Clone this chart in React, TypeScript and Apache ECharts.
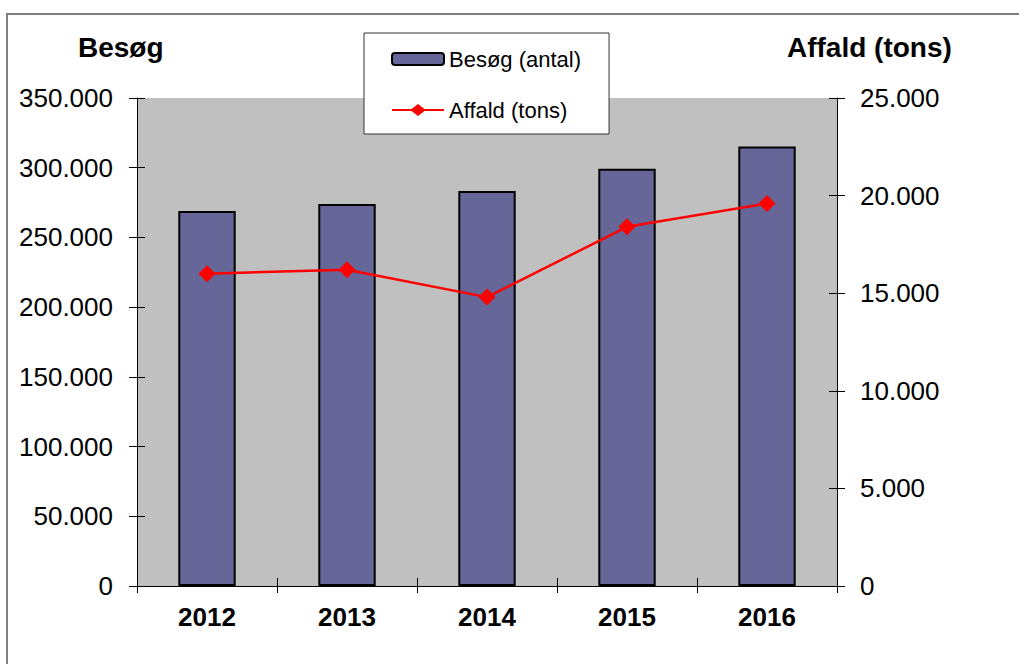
import React, { useEffect, useRef } from "react";
import * as echarts from "echarts";

const years = ["2012", "2013", "2014", "2015", "2016"];
const visits = [269000, 274000, 283300, 299300, 315300];
const waste = [16000, 16200, 14800, 18400, 19600];
const visitsName = "Besøg (antal)";
const wasteName = "Affald (tons)";
const leftTitle = "Besøg";
const rightTitle = "Affald (tons)";

const fmt = (v: number) => String(v).replace(/\B(?=(\d{3})+(?!\d))/g, ".");
const FONT = "'Liberation Sans', Arial, sans-serif";
const lineIcon =
  "path://M0,5 L19.5,5 L26,0 L32.5,5 L52,5 L52,7 L32.5,7 L26,12 L19.5,7 L0,7 Z";

export default function App() {
  const ref = useRef<HTMLDivElement>(null);
  useEffect(() => {
    if (!ref.current) return;
    const chart = echarts.init(ref.current, undefined, { renderer: "svg" });
    const tickStyle = { color: "#000", width: 1 };
    chart.setOption({
      animation: false,
      backgroundColor: "#fff",
      textStyle: { fontFamily: FONT },
      title: [
        {
          text: leftTitle,
          left: 78,
          top: 33,
          padding: 0,
          textStyle: { fontSize: 28, fontWeight: "bold", color: "#000", fontFamily: FONT },
        },
        {
          text: rightTitle,
          left: 787,
          top: 33,
          padding: 0,
          textStyle: { fontSize: 28, fontWeight: "bold", color: "#000", fontFamily: FONT },
        },
      ],
      graphic: [
        {
          type: "rect",
          shape: { x: 7, y: 14, width: 1030, height: 700 },
          style: { fill: "none", stroke: "#808080", lineWidth: 2 },
          silent: true,
          z: 0,
        },
      ],
      legend: {
        orient: "vertical",
        left: 364,
        top: 33,
        padding: [14, 28, 12, 27],
        itemWidth: 52,
        itemHeight: 12,
        itemGap: 27,
        backgroundColor: "#fff",
        borderColor: "#333",
        borderWidth: 1,
        textStyle: { fontSize: 22, lineHeight: 24, color: "#000", fontFamily: FONT },
        data: [
          { name: visitsName },
          { name: wasteName, icon: lineIcon, itemStyle: { color: "#FF0000", borderWidth: 0 } },
        ],
      },
      grid: {
        left: 137,
        right: 182,
        top: 98,
        bottom: 78,
        show: true,
        backgroundColor: "#C0C0C0",
        borderWidth: 0,
      },
      xAxis: [
        {
          type: "category",
          data: years,
          position: "bottom",
          axisLine: { lineStyle: { color: "#000", width: 1 } },
          axisTick: { show: true, length: 7, lineStyle: tickStyle },
          axisLabel: { color: "#000", fontSize: 26, fontWeight: "bold", margin: 18, fontFamily: FONT },
          splitLine: { show: false },
        },
        {
          type: "category",
          data: years,
          position: "bottom",
          offset: 0,
          axisLine: { show: false },
          axisTick: { show: true, inside: true, length: 8, lineStyle: tickStyle },
          axisLabel: { show: false },
          splitLine: { show: false },
        },
      ],
      yAxis: [
        {
          type: "value",
          position: "left",
          min: 0,
          max: 350000,
          interval: 50000,
          axisLine: { show: true, lineStyle: { color: "#000", width: 1 } },
          axisTick: { show: true, length: 8, lineStyle: tickStyle },
          axisLabel: { color: "#000", fontSize: 26, margin: 24, formatter: fmt, fontFamily: FONT },
          splitLine: { show: false },
        },
        {
          type: "value",
          position: "right",
          min: 0,
          max: 25000,
          interval: 5000,
          axisLine: { show: true, lineStyle: { color: "#000", width: 1 } },
          axisTick: { show: true, length: 8, lineStyle: tickStyle },
          axisLabel: { color: "#000", fontSize: 26, margin: 23, formatter: fmt, fontFamily: FONT },
          splitLine: { show: false },
        },
        {
          type: "value",
          position: "left",
          offset: 0,
          min: 0,
          max: 350000,
          interval: 50000,
          axisLine: { show: false },
          axisTick: { show: true, inside: true, length: 8, lineStyle: tickStyle },
          axisLabel: { show: false },
          splitLine: { show: false },
        },
        {
          type: "value",
          position: "right",
          offset: 0,
          min: 0,
          max: 25000,
          interval: 5000,
          axisLine: { show: false },
          axisTick: { show: true, inside: true, length: 8, lineStyle: tickStyle },
          axisLabel: { show: false },
          splitLine: { show: false },
        },
      ],
      series: [
        {
          name: visitsName,
          type: "bar",
          xAxisIndex: 0,
          yAxisIndex: 0,
          data: visits,
          barWidth: "41%",
          itemStyle: { color: "#666699", borderColor: "#000", borderWidth: 2 },
          z: 2,
        },
        {
          name: wasteName,
          type: "line",
          xAxisIndex: 0,
          yAxisIndex: 1,
          data: waste,
          symbol: "diamond",
          symbolSize: 17,
          lineStyle: { color: "#FF0000", width: 2.5 },
          itemStyle: { color: "#FF0000" },
          z: 3,
        },
      ],
    });
    return () => chart.dispose();
  }, []);
  return (
    <div
      ref={ref}
      style={{ position: "fixed", left: 0, top: 0, width: 1019, height: 664, background: "#fff" }}
    />
  );
}
